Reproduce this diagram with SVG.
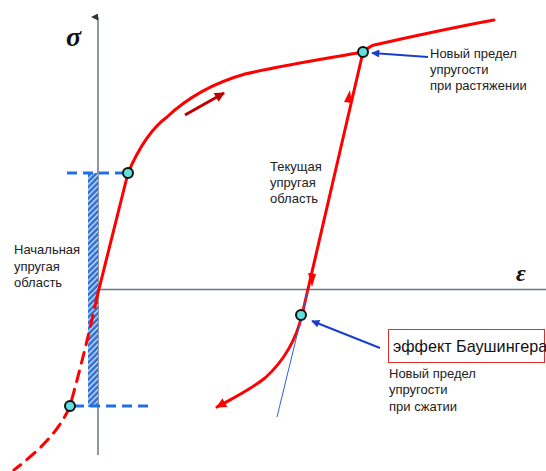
<svg xmlns="http://www.w3.org/2000/svg" width="546" height="471" viewBox="0 0 546 471">
<style>
.lbl{font-family:"Liberation Sans",Arial,sans-serif;font-size:13px;fill:#222}
.sym{font-family:"Liberation Serif","Times New Roman",serif;font-style:italic;font-weight:bold;fill:#111}
.red{fill:none;stroke:#ff0000;stroke-width:3;stroke-linecap:round;stroke-linejoin:round}
.bdash{fill:none;stroke:#2070e8;stroke-width:3;stroke-dasharray:10,6}
.pt{fill:#5fe0dc;stroke:#111;stroke-width:2}
.axis{stroke:#6a7580;stroke-width:1.5;fill:none}
.barrow{stroke:#1a3ecc;stroke-width:2;fill:none}
</style>
<defs>
<pattern id="hatch" width="4" height="4" patternUnits="userSpaceOnUse" patternTransform="rotate(45)">
<rect width="4" height="4" fill="#2d6fd8"/>
<rect x="0" y="0" width="1.3" height="4" fill="#d8e6f8"/>
</pattern>
<marker id="axhead" viewBox="0 0 10 10" refX="5" refY="10" markerWidth="7" markerHeight="7" orient="auto-start-reverse" markerUnits="userSpaceOnUse">
<path d="M0,10 L5,0 L10,10 Z" fill="#333"/>
</marker>
<marker id="bhead" viewBox="0 0 10 10" refX="9" refY="5" markerWidth="10" markerHeight="8" orient="auto" markerUnits="userSpaceOnUse">
<path d="M0,0 L10,5 L0,10 Z" fill="#1a3ecc"/>
</marker>
<marker id="rhead" viewBox="0 0 10 10" refX="9" refY="5" markerWidth="14" markerHeight="10" orient="auto" markerUnits="userSpaceOnUse">
<path d="M0,0 L10,5 L0,10 Z" fill="#ff0000"/>
</marker>
<marker id="drhead" viewBox="0 0 10 10" refX="9" refY="5" markerWidth="12" markerHeight="10" orient="auto" markerUnits="userSpaceOnUse">
<path d="M0,0 L10,5 L0,10 Z" fill="#c00000"/>
</marker>
</defs>

<g id="axes">
<line class="axis" x1="98" y1="455" x2="98" y2="17" marker-end="url(#axhead)"/>
<line class="axis" x1="98" y1="289.5" x2="546" y2="289.5"/>
<text class="sym" x="66" y="46" font-size="28">σ</text>
<text class="sym" x="516" y="281" font-size="24">ε</text>
</g>

<g id="elastic-band">
<rect x="88" y="173" width="10" height="234" fill="url(#hatch)"/>
</g>

<g id="connectors">
<line class="bdash" x1="67" y1="173" x2="124" y2="173"/>
<line class="bdash" x1="74" y1="406" x2="150" y2="406"/>
<path class="red" d="M97,297 L128,173 C140,145 152,128 167,117 C185,100 210,84 245,74 C290,64 330,58 363,52 C368,48 370,46 374,45 C410,37 450,28 494,20"/>
<path class="red" d="M97,297 C90,330 80,370 70,406 C60,430 40,450 14,470" stroke-dasharray="11,8"/>
<path class="red" d="M363,52 L302,315"/>
<path d="M344,102 L350,90 L352,103 Z" fill="#ff0000"/>
<path d="M308,273 L312,287 L316,274 Z" fill="#ff0000"/>
<path class="red" d="M302,315 C296,340 285,360 265,378 C250,390 235,397 217,407" marker-end="url(#rhead)"/>
<line x1="308" y1="290" x2="277" y2="417" stroke="#3060e0" stroke-width="1"/>
<line x1="185" y1="115" x2="224" y2="93" stroke="#c00000" stroke-width="3" marker-end="url(#drhead)"/>
<line class="barrow" x1="428" y1="57" x2="372" y2="53" marker-end="url(#bhead)"/>
<line class="barrow" x1="380" y1="348" x2="312" y2="321" marker-end="url(#bhead)"/>
</g>

<g id="points">
<circle class="pt" cx="128" cy="173" r="5"/>
<circle class="pt" cx="363" cy="52" r="5"/>
<circle class="pt" cx="301" cy="315" r="5"/>
<circle class="pt" cx="70" cy="406" r="5"/>
</g>

<g id="label-initial">
<text class="lbl" x="14" y="254">Начальная</text>
<text class="lbl" x="14" y="271">упругая</text>
<text class="lbl" x="14" y="287">область</text>
</g>
<g id="label-current">
<text class="lbl" x="270" y="171">Текущая</text>
<text class="lbl" x="270" y="187">упругая</text>
<text class="lbl" x="270" y="203">область</text>
</g>
<g id="label-tension">
<text class="lbl" x="430" y="58">Новый предел</text>
<text class="lbl" x="430" y="74">упругости</text>
<text class="lbl" x="430" y="90">при растяжении</text>
</g>
<g id="label-bauschinger">
<rect x="388.5" y="329.5" width="156" height="33" fill="#fff" stroke="#e03030" stroke-width="1"/>
<text x="393" y="352" font-family="Liberation Sans,Arial,sans-serif" font-size="16.2" fill="#111">эффект Баушингера</text>
</g>
<g id="label-compression">
<text class="lbl" x="389" y="378">Новый предел</text>
<text class="lbl" x="389" y="394">упругости</text>
<text class="lbl" x="389" y="411">при сжатии</text>
</g>
</svg>
